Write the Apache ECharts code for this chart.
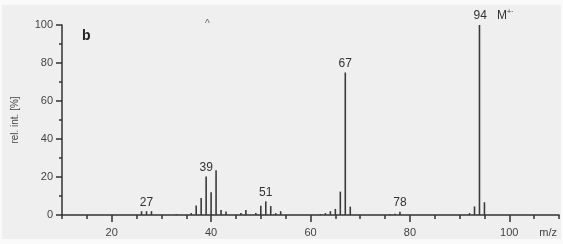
<!DOCTYPE html>
<html><head><meta charset="utf-8">
<script src="https://cdn.jsdelivr.net/npm/echarts@6/dist/echarts.min.js"></script>
<style>html,body{margin:0;padding:0;background:#fafafa;}#c{position:absolute;left:2px;top:5px;width:559px;height:234px;background:#efefef;}</style>
</head><body><div id="c"></div>
<script>
const mz =        [26, 27, 28, 33,  36, 37, 38, 39,   40, 41,   42,  43,  46, 47,  49, 50,  51,  52,  53, 54,  62,  63, 64, 65,  66,   67, 68,  76,  77, 78,  92, 93,  94, 95];
const intensity = [2,  2,  2,  0.5, 1,  5,  9,  20.2, 12, 23.5, 2.6, 1.9, 1,  2.6, 1,  4.9, 7.2, 4.7, 1,  2,   0.5, 1,  2,  3.2, 12.3, 75, 4.4, 0.5, 0.7, 1.7, 1,  4.5, 100, 6.7];
const labelled = [27, 39, 51, 67, 78, 94];
const xMajor = [20, 40, 60, 80, 100];
const xMinor = [10,15,20,25,30,35,40,45,50,55,60,65,70,75,80,85,90,95,100,105,110];

const chart = echarts.init(document.getElementById('c'));
const font = 'Liberation Sans, Arial, sans-serif';
const data = mz.map((m, i) => {
  const item = {value: [m, intensity[i]]};
  if (labelled.includes(m)) {
    if (m === 94) {
      item.label = {show: true, formatter: '{a|94}   {b|M}{c|+·}', offset: [14, 0],
        rich: {a: {fontSize: 12, color: '#333', fontFamily: font}, b: {fontSize: 12, color: '#333', fontFamily: font}, c: {fontSize: 7, color: '#333', fontFamily: font, verticalAlign: 'top', padding: [0,0,6,0]}}};
    } else {
      item.label = {show: true, formatter: String(m)};
    }
  }
  return item;
});
chart.setOption({
  animation: false,
  grid: {left: 59, top: 20, right: 2, bottom: 24},
  xAxis: [{
    type: 'value', min: 10, max: 110, interval: 5,
    axisLine: {lineStyle: {color: '#333', width: 1.5}},
    axisTick: {customValues: xMinor, length: 4, lineStyle: {color: '#333', width: 1.5}},
    axisLabel: {customValues: xMajor, color: '#444', fontSize: 11, fontFamily: font, margin: 12},
    splitLine: {show: false}
  }, {
    type: 'value', min: 10, max: 110, position: 'bottom', gridIndex: 0,
    axisLine: {show: false},
    axisTick: {customValues: xMajor, length: 7, lineStyle: {color: '#333', width: 1.5}},
    axisLabel: {show: false},
    splitLine: {show: false}
  }],
  yAxis: {
    type: 'value', min: 0, max: 100, interval: 20,
    name: 'rel. int. [%]', nameLocation: 'middle', nameGap: 42,
    nameTextStyle: {color: '#444', fontSize: 10, fontFamily: font},
    axisLine: {show: true, lineStyle: {color: '#333', width: 1.5}},
    axisTick: {show: true, length: 6, lineStyle: {color: '#333', width: 1.5}},
    minorTick: {show: true, splitNumber: 2, length: 3, lineStyle: {color: '#333', width: 1.5}},
    axisLabel: {color: '#444', fontSize: 11, fontFamily: font, margin: 9},
    splitLine: {show: false}
  },
  series: [{
    type: 'bar', xAxisIndex: 0, barWidth: 1.6, data: data,
    itemStyle: {color: '#3a3a3a'},
    label: {show: false, position: 'top', distance: 3, color: '#333', fontSize: 12, fontFamily: font}
  }],
  graphic: [
    {type: 'text', left: 80, top: 24, style: {text: 'b', font: 'bold 14px ' + font, fill: '#222'}},
    {type: 'text', left: 203, top: 14, style: {text: '^', font: '10px ' + font, fill: '#666'}},
    {type: 'text', right: 4, bottom: 1, style: {text: 'm/z', font: '11px ' + font, fill: '#444'}}
  ]
});
</script></body></html>
